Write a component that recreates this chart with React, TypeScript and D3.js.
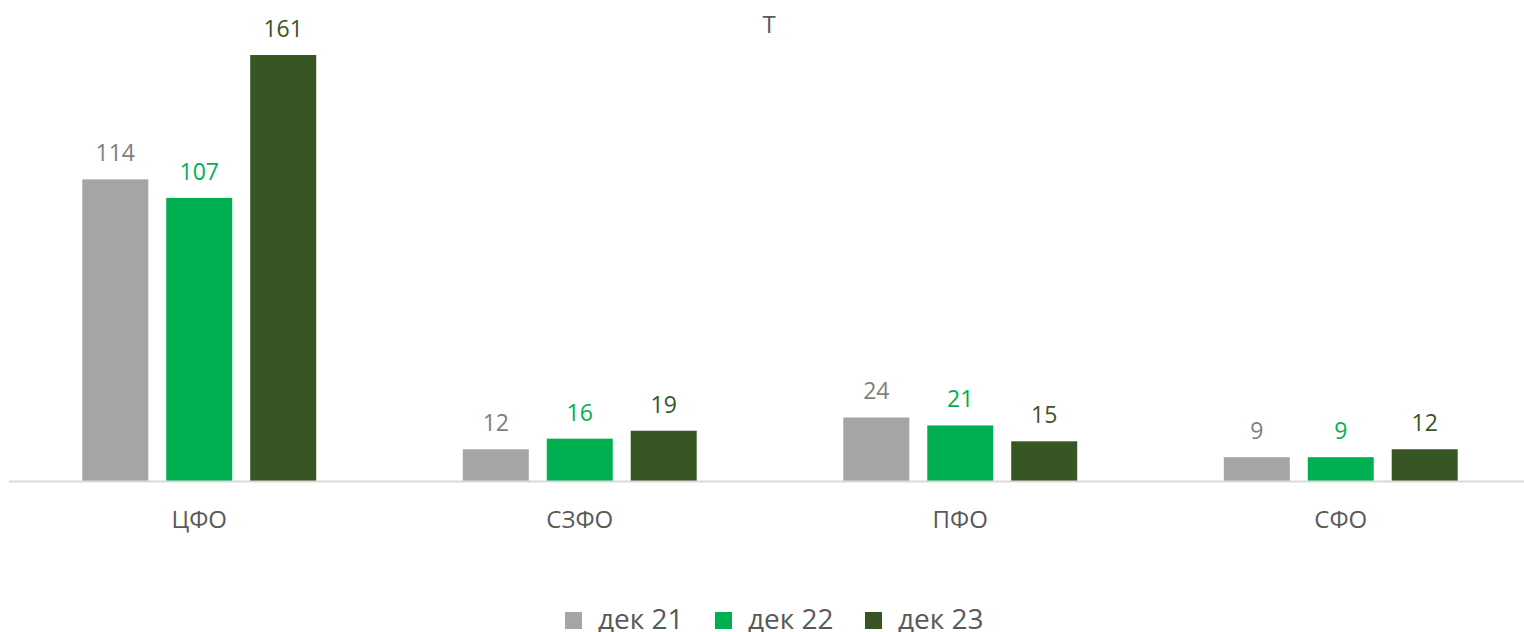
import React from 'react';
import * as d3 from 'd3';

const categories = ['ЦФО', 'СЗФО', 'ПФО', 'СФО'];
const seriesNames = ['дек 21', 'дек 22', 'дек 23'];
const dek21 = [114, 12, 24, 9];
const dek22 = [107, 16, 21, 9];
const dek23 = [161, 19, 15, 12];

const barColors = ['#A5A5A5', '#00B050', '#375623'];
const labelColors = ['#7F7F7F', '#00B050', '#375623'];

const W = 1524;
const H = 632;
const FONT = '"Open Sans", "Liberation Sans", sans-serif';

const App = () => {
  const values = [dek21, dek22, dek23];
  const baseY = 481;

  // outer band per region
  const x0 = d3.scaleBand<string>()
    .domain(categories)
    .range([9, 1531])
    .padding(0);

  // bars inside a region
  const x1 = d3.scaleBand<string>()
    .domain(seriesNames)
    .range([0, x0.bandwidth()])
    .paddingInner(0.214)
    .paddingOuter(0.873);

  const y = d3.scaleLinear()
    .domain([0, 161])
    .range([baseY, 55]);

  const legendStep = 150;
  const legendX = 565;

  return (
    <svg width={W} height={H} style={{ position: 'absolute', left: 0, top: 0, fontFamily: FONT }}>
      <rect width={W} height={H} fill="#fff" />
      <text x={769} y={33} textAnchor="middle" fontSize={24} fill="#595959">Т</text>

      {/* bars + labels */}
      {categories.map((c, ci) => (
        <g key={c} transform={`translate(${x0(c)},0)`}>
          {seriesNames.map((s, si) => {
            const v = values[si][ci];
            const bx = x1(s) as number;
            return (
              <g key={s}>
                <rect x={bx} y={y(v)} width={x1.bandwidth()} height={baseY - y(v)} fill={barColors[si]} />
                <text x={bx + x1.bandwidth() / 2} y={y(v) - 18} textAnchor="middle" fontSize={23} fill={labelColors[si]}>{v}</text>
              </g>
            );
          })}
          <text x={x0.bandwidth() / 2} y={528} textAnchor="middle" fontSize={24} fill="#595959">{c}</text>
        </g>
      ))}

      {/* axis line */}
      <line x1={x0.range()[0]} x2={x0.range()[1]} y1={baseY + 0.5} y2={baseY + 0.5} stroke="#D9D9D9" strokeWidth={2} />

      {/* legend */}
      {seriesNames.map((s, i) => (
        <g key={s} transform={`translate(${legendX + i * legendStep},612)`}>
          <rect x={0} y={0} width={17} height={17} fill={barColors[i]} />
          <text x={33} y={17} fontSize={28} fill="#595959">{s}</text>
        </g>
      ))}
    </svg>
  );
};

export default App;
